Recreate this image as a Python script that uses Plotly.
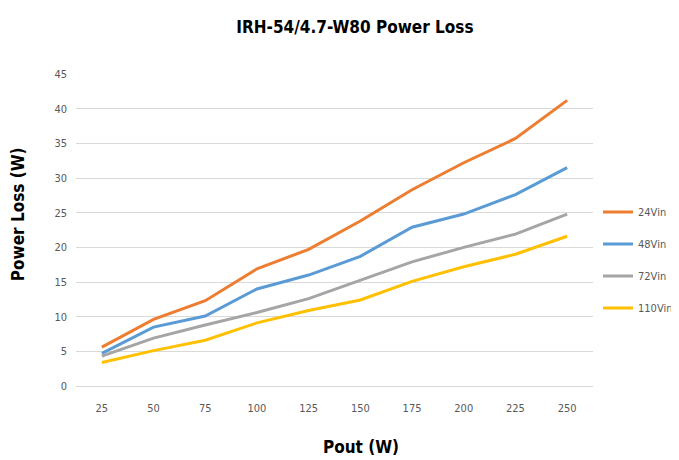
import plotly.graph_objects as go

pout = ["25", "50", "75", "100", "125", "150", "175", "200", "225", "250"]
vin_24 = [5.6, 9.6, 12.3, 16.9, 19.7, 23.8, 28.3, 32.2, 35.7, 41.2]
vin_48 = [4.7, 8.5, 10.1, 14.0, 16.0, 18.7, 22.9, 24.8, 27.6, 31.5]
vin_72 = [4.3, 6.9, 8.8, 10.6, 12.6, 15.2, 17.9, 20.0, 21.9, 24.8]
vin_110 = [3.4, 5.1, 6.6, 9.1, 10.9, 12.4, 15.1, 17.2, 19.0, 21.6]

series = [("24Vin", vin_24, "#ED7D31"), ("48Vin", vin_48, "#5B9BD5"),
          ("72Vin", vin_72, "#A5A5A5"), ("110Vin", vin_110, "#FFC000")]

narrow = "DejaVu Sans Condensed, Liberation Sans Narrow, Arial Narrow, sans-serif"

fig = go.Figure()
for i, (name, vals, col) in enumerate(series):
    fig.add_trace(go.Scatter(x=pout, y=vals, name=name, mode="lines",
                             legendgroup=f"g{i}",
                             line=dict(color=col, width=3)))

fig.update_layout(
    width=671, height=452,
    paper_bgcolor="white", plot_bgcolor="white",
    margin=dict(l=68, r=86, t=66, b=74, autoexpand=False),
    title=dict(text="<b>IRH-54/4.7-W80 Power Loss</b>", x=0.517, xanchor="center",
               y=0.958, yanchor="middle",
               font=dict(family=narrow, size=17, color="#000000")),
    xaxis=dict(type="category", range=[-0.5, 9.5], showgrid=False, showline=False,
               zeroline=False, automargin=False,
               ticks="", ticklabelstandoff=14,
               tickfont=dict(family=narrow, size=11, color="#595959")),
    yaxis=dict(range=[0, 45], dtick=5, showgrid=True, gridcolor="#D9D9D9",
               gridwidth=1, zeroline=True, zerolinecolor="#D9D9D9", zerolinewidth=1,
               showline=False, ticks="", ticklabelstandoff=8, automargin=False,
               tickfont=dict(family=narrow, size=11, color="#595959")),
    legend=dict(x=1.0097, xanchor="left", y=0.404, yanchor="middle",
                font=dict(family=narrow, size=11, color="#595959"),
                itemwidth=30, tracegroupgap=13, bgcolor="rgba(0,0,0,0)"),
    annotations=[
        dict(text="<b>Pout (W)</b>", xref="paper", yref="paper",
             x=0.551, y=-0.197, xanchor="center", yanchor="middle",
             showarrow=False, font=dict(family=narrow, size=17, color="#000000")),
        dict(text="<b>Power Loss (W)</b>", xref="paper", yref="paper",
             x=-0.112, y=0.551, xanchor="center", yanchor="middle", textangle=-90,
             showarrow=False, font=dict(family=narrow, size=17, color="#000000")),
    ],
)

fig.write_html("out.html")
